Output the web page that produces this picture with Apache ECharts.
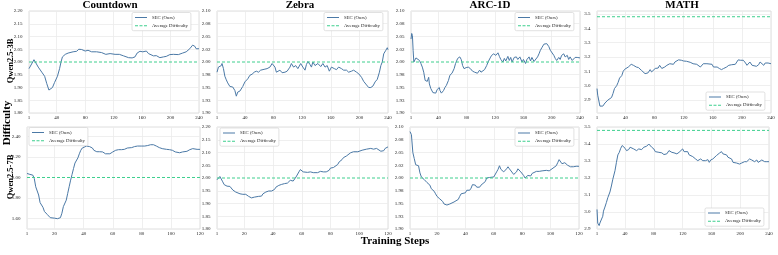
<!DOCTYPE html>
<html><head><meta charset="utf-8">
<script src="https://cdn.jsdelivr.net/npm/echarts/dist/echarts.min.js"></script>
<style>html,body{margin:0;padding:0;background:#fff}#c{width:778px;height:255px}</style>
</head><body><div id="c"></div>
<script>
// ---------- DATA ----------
const taskNames = ['Countdown', 'Zebra', 'ARC-1D', 'MATH'];
const modelNames = ['Qwen2.5-3B', 'Qwen2.5-7B'];
const seriesNames = ['SEC (Ours)', 'Average Difficulty'];

// Qwen2.5-3B row
const cd3Steps = [1,3,8,14,19,23,26,29,30,34,37,41,44,46,48,52,56,58,63,68,71,75,80,84,89,96,103,109,115,122,128,134,141,146,150,153,157,161,166,169,171,176,180,185,190,194,199,204,211,217,222,227,231,234,236,240];
const cd3Vals = [1.974,1.967,2.009,1.98,1.96,1.944,1.915,1.89,1.885,1.90,1.92,1.944,1.974,2.0,2.02,2.03,2.035,2.04,2.04,2.042,2.05,2.049,2.043,2.046,2.04,2.04,2.037,2.03,2.033,2.03,2.03,2.024,2.017,2.016,2.02,2.035,2.042,2.04,2.043,2.033,2.026,2.024,2.025,2.017,2.02,2.022,2.029,2.03,2.029,2.035,2.04,2.052,2.066,2.062,2.052,2.052];

const zb3Steps = [1,3,5,7,8,10,12,14,16,19,21,23,26,28,30,33,35,37,40,42,44,47,50,53,56,59,62,64,68,71,75,78,80,82,84,86,89,92,96,99,103,105,108,111,114,118,121,124,126,128,131,133,135,138,140,142,146,149,152,155,158,161,165,168,171,175,178,182,185,189,192,196,199,203,206,210,213,216,219,222,225,228,230,232,234,237,239,240];
const zb3Vals = [1.980,1.99,1.987,1.993,1.997,1.987,1.972,1.965,1.959,1.952,1.95,1.951,1.944,1.933,1.941,1.943,1.946,1.952,1.961,1.962,1.967,1.974,1.976,1.98,1.982,1.98,1.984,1.982,1.986,1.987,1.99,1.997,1.999,1.99,1.98,1.978,1.984,1.979,1.98,1.982,1.99,1.997,1.99,1.993,1.987,1.997,1.99,1.984,1.995,2.001,1.995,1.99,2.0,1.993,1.99,1.997,1.991,1.997,1.99,1.993,1.982,1.99,1.987,1.985,1.99,1.987,1.984,1.984,1.98,1.982,1.984,1.98,1.977,1.97,1.962,1.955,1.95,1.95,1.953,1.961,1.966,1.98,1.993,2.0,2.016,2.023,2.028,2.024];

const arc3Steps = [1,2,3,4,5,6,8,10,13,15,17,19,21,24,26,27,29,32,34,36,38,41,42,44,47,49,51,54,56,59,62,64,67,70,72,74,76,79,82,85,88,91,95,98,100,102,105,108,110,113,115,116,118,121,124,126,128,131,133,135,138,140,142,144,147,150,152,155,158,160,163,165,168,170,172,175,177,180,182,184,186,189,191,193,196,198,200,203,205,207,210,212,214,217,219,222,224,226,229,231,233,236,240];
const arc3Vals = [2.045,2.056,2.052,2.023,2.0,2.003,2.008,2.009,2.003,1.997,1.99,1.98,1.964,1.962,1.97,1.957,1.948,1.94,1.938,1.939,1.946,1.95,1.944,1.939,1.944,1.95,1.954,1.964,1.974,1.978,1.987,1.997,2.007,2.01,2.005,1.993,1.987,1.989,1.99,1.987,1.982,1.98,1.978,1.984,1.98,1.979,1.985,1.993,2.0,2.008,2.013,2.01,2.016,2.013,2.018,2.011,2.005,2.0,2.007,2.002,2.011,2.003,2.009,2.0,2.009,2.01,2.005,2.01,2.0,2.005,1.997,2.005,2.01,2.002,2.009,2.001,2.003,2.01,2.016,2.023,2.028,2.035,2.037,2.036,2.03,2.023,2.02,2.013,2.007,2.003,2.009,2.005,2.013,2.016,2.01,2.013,2.005,2.01,2.003,2.0,2.009,2.009,2.008];

const math3Steps = [1,2,5,7,9,12,14,16,18,21,23,25,28,30,32,35,37,39,41,44,46,48,51,53,55,58,60,62,64,67,69,71,74,76,78,81,83,85,87,90,92,94,97,99,101,103,106,108,110,113,115,117,120,124,129,133,138,140,143,145,147,149,152,154,159,161,163,166,169,172,175,177,179,182,184,186,188,191,193,195,198,200,202,205,207,209,211,214,216,220,223,225,227,230,232,234,236,240];
const math3Vals = [2.98,2.934,2.858,2.849,2.858,2.88,2.89,2.90,2.904,2.918,2.946,2.98,3.0,3.023,3.053,3.07,3.1,3.114,3.12,3.13,3.142,3.149,3.142,3.135,3.13,3.126,3.12,3.107,3.1,3.084,3.08,3.089,3.112,3.096,3.103,3.12,3.107,3.123,3.142,3.12,3.107,3.13,3.142,3.135,3.153,3.142,3.149,3.165,3.172,3.18,3.172,3.177,3.172,3.17,3.163,3.153,3.149,3.142,3.13,3.142,3.153,3.149,3.153,3.142,3.149,3.13,3.123,3.13,3.12,3.112,3.12,3.107,3.13,3.142,3.153,3.146,3.158,3.149,3.165,3.18,3.177,3.165,3.177,3.158,3.142,3.153,3.165,3.142,3.135,3.135,3.146,3.165,3.153,3.142,3.158,3.153,3.158,3.153];

// Qwen2.5-7B row
const cd7Steps = [1,3,5,6,7,9,10,12,13,15,17,20,22,23,24,25,26,28,29,30,31,32,33,34,36,37,38,39,40,42,44,46,47,49,51,53,55,58,60,62,64,66,68,70,73,75,77,80,82,84,86,88,90,92,94,97,99,101,103,106,108,111,113,115,118,120];
const cd7Vals = [2.039,2.03,2.023,1.99,1.91,1.83,1.756,1.71,1.67,1.64,1.61,1.605,1.60,1.595,1.61,1.653,1.717,1.78,1.846,1.91,1.974,2.03,2.087,2.14,2.19,2.23,2.264,2.286,2.30,2.305,2.30,2.286,2.264,2.25,2.25,2.248,2.23,2.23,2.248,2.264,2.27,2.27,2.273,2.286,2.29,2.30,2.305,2.305,2.305,2.31,2.318,2.318,2.305,2.29,2.28,2.273,2.27,2.264,2.248,2.24,2.248,2.254,2.27,2.28,2.273,2.273];

const zb7Steps = [1,2,3,4,5,6,8,10,11,12,14,17,19,21,23,25,27,28,30,32,33,34,35,37,38,39,41,42,44,46,48,50,51,52,54,55,56,58,59,60,61,64,66,68,71,73,75,77,79,80,82,83,85,86,88,89,91,92,94,96,97,99,100,102,103,105,106,108,110,112,113,115,117,118,119,120];
const zb7Vals = [1.993,1.999,2.006,2.01,1.985,1.974,1.968,1.967,1.962,1.953,1.945,1.938,1.936,1.936,1.928,1.922,1.925,1.929,1.928,1.929,1.938,1.941,1.945,1.949,1.945,1.949,1.955,1.964,1.971,1.975,1.978,1.98,1.982,1.991,1.988,1.993,2.004,2.024,2.033,2.03,2.024,2.022,2.024,2.021,2.021,2.026,2.024,2.024,2.03,2.039,2.041,2.043,2.053,2.063,2.072,2.08,2.086,2.093,2.099,2.103,2.105,2.103,2.105,2.109,2.112,2.113,2.116,2.116,2.113,2.116,2.113,2.105,2.107,2.116,2.122,2.122];

const arc7Steps = [1,2,3,4,5,6,7,8,9,10,11,12,13,15,16,17,18,19,20,22,23,24,25,26,27,29,30,32,33,35,36,37,38,40,41,42,43,44,45,47,48,49,50,51,52,54,55,56,57,58,60,61,62,63,64,65,67,68,69,70,71,72,74,75,76,77,78,79,81,82,83,84,85,86,87,88,90,91,92,93,94,95,97,98,99,100,101,102,104,105,106,107,108,109,110,112,113,114,116,118,120];
const arc7Vals = [2.091,2.085,2.05,2.038,2.026,2.024,2.024,2.01,2.002,2.0,1.997,1.995,1.991,1.986,1.979,1.976,1.974,1.969,1.964,1.959,1.958,1.954,1.949,1.946,1.947,1.949,1.951,1.953,1.954,1.958,1.964,1.969,1.972,1.971,1.976,1.978,1.976,1.98,1.987,1.986,1.982,1.979,1.982,1.986,1.989,1.993,2.0,1.999,2.001,1.999,2.002,2.005,2.012,2.017,2.024,2.017,2.012,2.015,2.018,2.022,2.018,2.015,2.007,2.004,2.012,2.018,2.015,2.012,2.005,2.0,1.997,2.005,2.007,2.004,2.009,2.012,2.013,2.015,2.013,2.012,2.014,2.012,2.015,2.012,2.014,2.017,2.018,2.02,2.024,2.03,2.036,2.033,2.028,2.026,2.03,2.025,2.024,2.022,2.022,2.023,2.023];

const math7Steps = [1,2,4,5,7,9,10,12,14,16,19,21,23,26,28,30,32,34,36,38,40,42,45,47,49,52,54,56,59,61,63,66,68,70,73,75,77,80,82,84,87,89,91,94,96,98,101,103,105,108,110,112,115,117,120,122,124,127,129,131,134,136,138,141,143,145,148,150,152,155,157,159,162,164,167,169,171,174,176,178,181,183,185,188,190,192,195,197,199,202,204,206,209,211,213,216,218,220,223,225,227,230,232,234,237,240];
const math7Vals = [3.015,2.935,2.92,2.935,2.945,2.975,3.005,3.029,3.055,3.084,3.118,3.153,3.193,3.243,3.292,3.336,3.351,3.375,3.391,3.391,3.375,3.361,3.367,3.381,3.381,3.371,3.361,3.361,3.371,3.375,3.367,3.381,3.375,3.387,3.4,3.395,3.381,3.371,3.355,3.346,3.351,3.355,3.348,3.338,3.338,3.342,3.361,3.355,3.351,3.348,3.355,3.342,3.351,3.361,3.371,3.355,3.365,3.355,3.336,3.332,3.326,3.316,3.312,3.302,3.306,3.312,3.302,3.292,3.302,3.308,3.292,3.306,3.312,3.322,3.332,3.322,3.346,3.355,3.342,3.351,3.336,3.322,3.328,3.312,3.292,3.296,3.288,3.296,3.282,3.288,3.292,3.296,3.296,3.306,3.312,3.306,3.308,3.296,3.306,3.292,3.302,3.306,3.302,3.296,3.296,3.296];

// Average difficulty per dataset
const avgCountdown = 2.0, avgZebra = 2.0, avgArc = 2.0, avgMath = 3.48;

// Tick values and their labels
const yTicks005 = [1.8,1.85,1.9,1.95,2.0,2.05,2.1,2.15,2.2];
const yLabels005 = ['1.80','1.85','1.90','1.95','2.00','2.05','2.10','2.15','2.20'];
const yTicks0025 = [1.9,1.925,1.95,1.975,2.0,2.025,2.05,2.075,2.1];
const yLabels0025 = ['1.90','1.93','1.95','1.98','2.00','2.02','2.05','2.08','2.10'];
const yTicksCd7 = [1.6,1.8,2.0,2.2,2.4];
const yLabelsCd7 = ['1.60','1.80','2.00','2.20','2.40'];
const yTicksMath = [2.9,3.0,3.1,3.2,3.3,3.4,3.5];
const yLabelsMath = ['2.9','3.0','3.1','3.2','3.3','3.4','3.5'];
const xTicks240 = [1,40,80,120,160,200,240];
const xLabels240 = ['1','40','80','120','160','200','240'];
const xTicks120 = [1,20,40,60,80,100,120];
const xLabels120 = ['1','20','40','60','80','100','120'];

// ---------- LAYOUT ----------
const SERIF = '"Liberation Serif","Times New Roman",serif';
const BLUE = '#4b79a6', GREEN = '#3ecf8e';
const GRIDC = '#ebebeb';

const panels = [
  {steps:cd3Steps, vals:cd3Vals, avg:avgCountdown, grid:{left:29,top:11,width:170,height:102}, xT:xTicks240, xL:xLabels240,
   yMin:1.8, yMax:2.2, yT:yTicks005, yL:yLabels005, legend:{left:132,top:12.5}},
  {steps:zb3Steps, vals:zb3Vals, avg:avgZebra, grid:{left:217,top:11,width:171,height:102}, xT:xTicks240, xL:xLabels240,
   yMin:1.9, yMax:2.1, yT:yTicks0025, yL:yLabels0025, legend:{left:324,top:12.5}},
  {steps:arc3Steps, vals:arc3Vals, avg:avgArc, grid:{left:411,top:11,width:169,height:102}, xT:xTicks240, xL:xLabels240,
   yMin:1.9, yMax:2.1, yT:yTicks0025, yL:yLabels0025, legend:{left:515,top:12.5}},
  {steps:math3Steps, vals:math3Vals, avg:avgMath, grid:{left:597,top:11,width:174,height:102}, xT:xTicks240, xL:xLabels240,
   yMin:2.81, yMax:3.52, yT:yTicksMath, yL:yLabelsMath, legend:{left:706,top:92}},
  {steps:cd7Steps, vals:cd7Vals, avg:avgCountdown, grid:{left:27,top:127,width:173,height:102}, xT:xTicks120, xL:xLabels120,
   yMin:1.5, yMax:2.49, yT:yTicksCd7, yL:yLabelsCd7, legend:{left:29,top:127.5}},
  {steps:zb7Steps, vals:zb7Vals, avg:avgZebra, grid:{left:217,top:127,width:171,height:102}, xT:xTicks120, xL:xLabels120,
   yMin:1.8, yMax:2.2, yT:yTicks005, yL:yLabels005, legend:{left:220,top:128}},
  {steps:arc7Steps, vals:arc7Vals, avg:avgArc, grid:{left:410,top:127,width:169,height:102}, xT:xTicks120, xL:xLabels120,
   yMin:1.9, yMax:2.1, yT:yTicks0025, yL:yLabels0025, legend:{left:515,top:128}},
  {steps:math7Steps, vals:math7Vals, avg:avgMath, grid:{left:597,top:127,width:172,height:102}, xT:xTicks240, xL:xLabels240,
   yMin:2.9, yMax:3.5, yT:yTicksMath, yL:yLabelsMath, legend:{left:705,top:208}}
];

function lookup(ticks, labels) {
  return function (v) {
    for (let k = 0; k < ticks.length; k++) {
      if (Math.abs(v - ticks[k]) < 1e-6) return labels[k];
    }
    return '';
  };
}

const option = {
  animation: false,
  backgroundColor: '#ffffff',
  grid: [], xAxis: [], yAxis: [], series: [], legend: [],
  graphic: []
};

panels.forEach((p, i) => {
  const xFirst = p.xT[0], xLast = p.xT[p.xT.length - 1];
  // grid lines: skip the one hidden under the average line
  const yGridTicks = p.yT.filter(v => Math.abs(v - p.avg) > 1e-9);
  option.grid.push(Object.assign({show:true, borderColor:'#d6d6d6', borderWidth:0.8, backgroundColor:'#ffffff'}, p.grid));
  option.xAxis.push({
    type:'value', gridIndex:i, min:xFirst, max:xLast,
    axisLine:{show:false}, axisTick:{show:false, customValues:p.xT},
    axisLabel:{fontSize:5, fontFamily:SERIF, color:'#222', margin:2, customValues:p.xT,
      formatter: lookup(p.xT, p.xL)},
    splitLine:{show:true, lineStyle:{color:GRIDC, width:0.8}}
  });
  option.yAxis.push({
    type:'value', gridIndex:i, min:p.yMin, max:p.yMax,
    axisLine:{show:false}, axisTick:{show:false, customValues:yGridTicks},
    axisLabel:{fontSize:5, fontFamily:SERIF, color:'#222', margin:6.5, customValues:p.yT, formatter: lookup(p.yT, p.yL)},
    splitLine:{show:true, lineStyle:{color:GRIDC, width:0.8}}
  });
  option.series.push({
    type:'line', name:seriesNames[0], xAxisIndex:i, yAxisIndex:i,
    data: p.steps.map((s, k) => [s, p.vals[k]]),
    symbol:'none', showSymbol:false, silent:true, z:2,
    lineStyle:{color:BLUE, width:1}, itemStyle:{color:BLUE}
  });
  option.series.push({
    type:'line', name:seriesNames[1], xAxisIndex:i, yAxisIndex:i,
    data: [[xFirst, p.avg], [xLast, p.avg]],
    symbol:'none', showSymbol:false, silent:true, z:3,
    lineStyle:{color:GREEN, width:1, type:[3,2]}, itemStyle:{color:GREEN}
  });
  option.legend.push({
    left:p.legend.left, top:p.legend.top, orient:'vertical', selectedMode:false,
    itemWidth:12, itemHeight:1, itemGap:3.2, padding:[2.5,3,2.5,3],
    backgroundColor:'#ffffff', borderColor:'#cccccc', borderWidth:0.6, borderRadius:1.5,
    textStyle:{fontSize:4.8, fontFamily:SERIF, color:'#222'},
    itemStyle:{borderWidth:0},
    data: [
      {name:seriesNames[0], icon:'path://M0,0h12v1h-12z'},
      {name:seriesNames[1], icon:'path://M0,0h3v1h-3zM4.5,0h3v1h-3zM9,0h3v1h-3z'}
    ]
  });
});

function txt(text, x, y, size, rot) {
  return {type:'text', x:x, y:y, rotation: rot || 0, silent:true,
    style:{text:text, fontSize:size, fontWeight:'bold', fontFamily:SERIF, fill:'#000',
      align:'center', verticalAlign:'middle', textAlign:'center', textVerticalAlign:'middle'}};
}
const titleX = [110, 300, 490, 682];
taskNames.forEach((t, i) => option.graphic.push(txt(t, titleX[i], 5.5, 11)));
option.graphic.push(txt('Training Steps', 395, 241, 11));
option.graphic.push(txt('Difficulty', 7, 123, 11, Math.PI / 2));
option.graphic.push(txt(modelNames[0], 11, 61, 8.5, Math.PI / 2));
option.graphic.push(txt(modelNames[1], 11, 177, 8.5, Math.PI / 2));

const chart = echarts.init(document.getElementById('c'), null, {renderer:'canvas'});
chart.setOption(option);
</script></body></html>
